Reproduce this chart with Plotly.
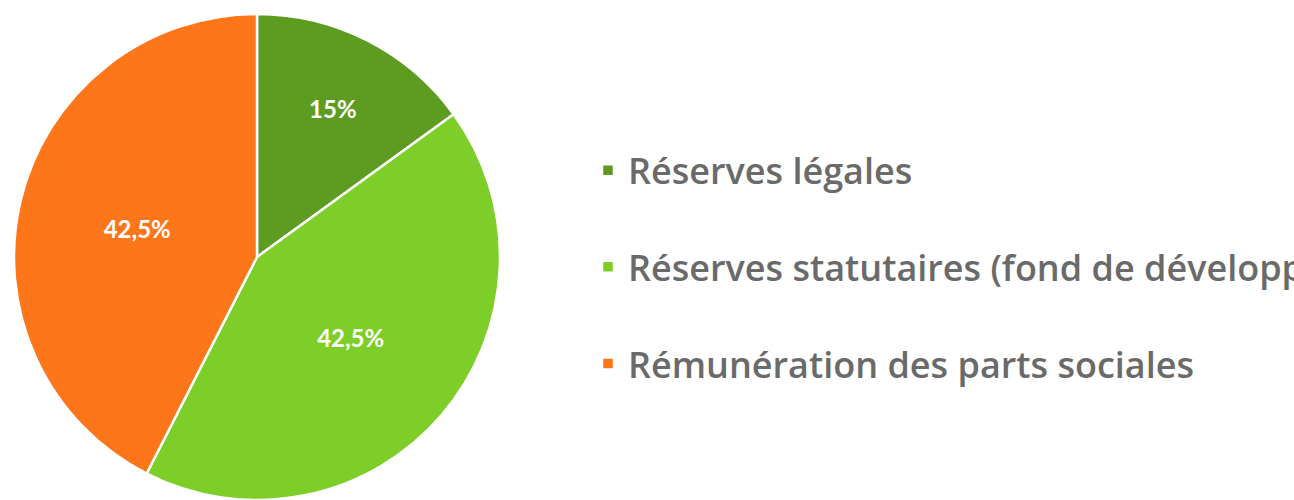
import plotly.graph_objects as go

labels = ["Réserves légales",
          "Réserves statutaires (fond de développement)",
          "Rémunération des parts sociales"]
values = [15, 42.5, 42.5]
colors = ["#5d9b21", "#7dce28", "#fd761a"]

W, H = 1294, 500

fig = go.Figure(go.Pie(
    labels=[l + "<br> " for l in labels],
    values=values,
    sort=False,
    direction="clockwise",
    rotation=0,
    marker=dict(colors=colors, line=dict(color="white", width=2.5)),
    texttemplate="<b>%{percent:.3~%}</b>",
    textposition="inside",
    insidetextorientation="horizontal",
    insidetextfont=dict(color="white", size=24, family="Lato"),
    domain=dict(x=[0, 514 / W], y=[0, 1]),
    hoverinfo="label+percent",
))

fig.update_layout(
    width=W, height=H,
    margin=dict(l=0, r=0, t=14, b=0, autoexpand=False),
    paper_bgcolor="white",
    plot_bgcolor="white",
    separators=", ",
    showlegend=True,
    legend=dict(
        x=588 / W, xanchor="left",
        y=0.74, yanchor="top",
        valign="top",
        font=dict(family="Open Sans", size=36, color="#6a6a6a", weight=600),
        itemwidth=30,
        bgcolor="rgba(0,0,0,0)",
    ),
)

fig.write_html("out.html")
